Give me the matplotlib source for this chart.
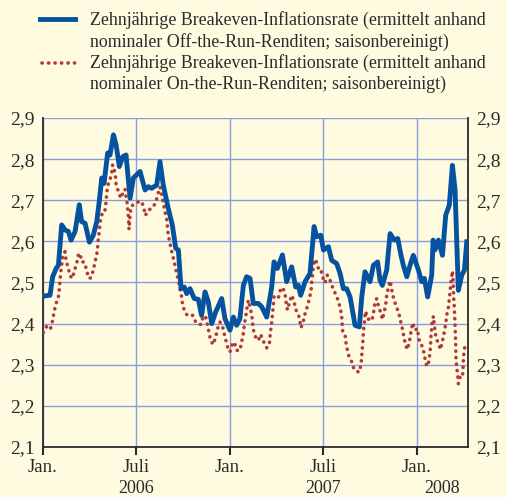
import matplotlib
matplotlib.use("Agg")
import matplotlib.pyplot as plt
from matplotlib.lines import Line2D
from matplotlib.ticker import FuncFormatter
import matplotlib.transforms as mtransforms

# months since Jan. 2006 / rate in %
blue_m = [0.02, 0.45, 0.62, 0.84, 0.99, 1.20, 1.41, 1.63, 1.80, 2.06, 2.33, 2.48, 2.70, 2.98,
          3.23, 3.45, 3.62, 3.77, 3.92, 4.15, 4.30, 4.52, 4.69, 4.90, 5.12, 5.33, 5.59, 5.80,
          6.23, 6.55, 6.76, 6.97, 7.30, 7.51, 7.72, 8.04, 8.30, 8.52, 8.69, 8.86, 9.07, 9.22,
          9.44, 9.71, 9.97, 10.18, 10.40, 10.61, 10.83, 11.08, 11.47, 11.68, 12.00, 12.22,
          12.43, 12.64, 12.86, 13.07, 13.29, 13.50, 13.82, 14.04, 14.36, 14.68, 14.83, 15.04,
          15.37, 15.64, 15.96, 16.22, 16.39, 16.54, 16.82, 17.14, 17.40, 17.57, 17.83, 18.00,
          18.32, 18.53, 18.85, 19.07, 19.28, 19.49, 19.71, 20.03, 20.31, 20.46, 20.67, 20.99,
          21.21, 21.48, 21.63, 21.78, 22.06, 22.28, 22.55, 22.77, 22.98, 23.13, 23.35, 23.56,
          23.77, 23.92, 24.10, 24.31, 24.48, 24.69, 24.95, 25.04, 25.16, 25.38, 25.64, 25.85,
          26.08, 26.28, 26.45, 26.66, 26.88, 27.05, 27.20]
blue_v = [2.467, 2.469, 2.514, 2.534, 2.542, 2.640, 2.628, 2.624, 2.603, 2.624, 2.689, 2.648,
          2.644, 2.598, 2.615, 2.648, 2.700, 2.754, 2.741, 2.815, 2.810, 2.859, 2.835, 2.782,
          2.806, 2.810, 2.705, 2.754, 2.770, 2.725, 2.733, 2.729, 2.737, 2.794, 2.737, 2.680,
          2.640, 2.583, 2.579, 2.485, 2.489, 2.473, 2.485, 2.461, 2.459, 2.420, 2.477, 2.453,
          2.400, 2.428, 2.461, 2.412, 2.384, 2.416, 2.396, 2.412, 2.493, 2.514, 2.510, 2.449,
          2.449, 2.441, 2.416, 2.489, 2.550, 2.534, 2.567, 2.502, 2.538, 2.489, 2.493, 2.469,
          2.502, 2.522, 2.636, 2.611, 2.615, 2.579, 2.587, 2.554, 2.546, 2.522, 2.485, 2.485,
          2.465, 2.396, 2.392, 2.465, 2.526, 2.502, 2.542, 2.550, 2.506, 2.493, 2.530, 2.619,
          2.603, 2.607, 2.566, 2.542, 2.514, 2.542, 2.566, 2.550, 2.530, 2.502, 2.510, 2.465,
          2.518, 2.603, 2.579, 2.603, 2.566, 2.664, 2.688, 2.785, 2.725, 2.481, 2.518, 2.530,
          2.599]

red_m = [0.02, 0.28, 0.49, 0.62, 0.71, 0.82, 0.99, 1.05, 1.09, 1.14, 1.20, 1.26, 1.41, 1.48,
         1.63, 1.74, 1.89, 2.01, 2.16, 2.27, 2.38, 2.48, 2.63, 2.81, 2.91, 3.06, 3.23, 3.34,
         3.45, 3.51, 3.55, 3.62, 3.66, 3.77, 3.88, 3.98, 4.05, 4.09, 4.15, 4.30, 4.41, 4.47,
         4.56, 4.65, 4.69, 4.84, 4.99, 5.12, 5.27, 5.33, 5.42, 5.46, 5.50, 5.52, 5.59, 5.65,
         6.01, 6.34, 6.49, 6.57, 6.76, 6.97, 7.23, 7.36, 7.51, 7.62, 7.72, 7.83, 7.94, 8.04,
         8.15, 8.26, 8.37, 8.47, 8.58, 8.69, 8.79, 8.90, 8.96, 9.11, 9.29, 9.44, 9.61, 9.80,
         9.97, 10.14, 10.29, 10.44, 10.55, 10.65, 10.76, 10.93, 11.08, 11.21, 11.36, 11.51,
         11.60, 11.72, 11.85, 12.00, 12.15, 12.28, 12.43, 12.64, 12.75, 12.86, 12.92, 13.01,
         13.09, 13.18, 13.29, 13.40, 13.50, 13.65, 13.82, 13.97, 14.15, 14.36, 14.53, 14.57,
         14.64, 14.70, 14.74, 14.79, 14.83, 15.11, 15.22, 15.39, 15.54, 15.60, 15.69, 15.81,
         15.96, 16.11, 16.22, 16.41, 16.50, 16.56, 16.71, 16.82, 16.97, 17.10, 17.21, 17.25,
         17.31, 17.35, 17.42, 17.53, 17.68, 17.83, 17.93, 18.10, 18.25, 18.42, 18.60, 18.81,
         18.96, 19.07, 19.17, 19.24, 19.39, 19.45, 19.54, 19.64, 19.82, 19.97, 20.14, 20.31,
         20.42, 20.46, 20.50, 20.54, 20.56, 20.63, 20.67, 20.71, 20.84, 21.10, 21.21, 21.27,
         21.42, 21.53, 21.70, 21.78, 21.91, 22.00, 22.06, 22.17, 22.28, 22.34, 22.43, 22.55,
         22.70, 22.85, 22.98, 23.09, 23.18, 23.28, 23.39, 23.52, 23.62, 23.73, 23.88, 24.03,
         24.10, 24.20, 24.31, 24.42, 24.52, 24.63, 24.74, 24.82, 24.87, 24.89, 24.93, 24.97,
         25.06, 25.10, 25.23, 25.38, 25.51, 25.55, 25.66, 25.76, 25.85, 25.91, 26.02, 26.08,
         26.13, 26.17, 26.23, 26.28, 26.32, 26.36, 26.41, 26.45, 26.49, 26.51, 26.56, 26.62,
         26.66, 26.77, 26.92, 26.96, 26.98, 27.02, 27.09]
red_v = [2.378, 2.396, 2.389, 2.408, 2.428, 2.447, 2.465, 2.485, 2.504, 2.526, 2.542, 2.563,
         2.575, 2.554, 2.534, 2.516, 2.510, 2.528, 2.546, 2.567, 2.571, 2.550, 2.550, 2.530,
         2.511, 2.511, 2.530, 2.550, 2.568, 2.587, 2.607, 2.625, 2.646, 2.664, 2.676, 2.676,
         2.697, 2.717, 2.735, 2.750, 2.766, 2.786, 2.778, 2.758, 2.739, 2.721, 2.705, 2.717,
         2.727, 2.709, 2.689, 2.668, 2.648, 2.629, 2.664, 2.685, 2.695, 2.697, 2.678, 2.663,
         2.676, 2.680, 2.693, 2.713, 2.732, 2.713, 2.693, 2.672, 2.654, 2.615, 2.595, 2.576,
         2.559, 2.542, 2.522, 2.506, 2.485, 2.465, 2.445, 2.428, 2.419, 2.420, 2.420, 2.404,
         2.398, 2.398, 2.419, 2.416, 2.398, 2.380, 2.359, 2.349, 2.367, 2.388, 2.404, 2.396,
         2.380, 2.362, 2.343, 2.331, 2.351, 2.355, 2.335, 2.335, 2.355, 2.376, 2.396, 2.416,
         2.437, 2.457, 2.442, 2.420, 2.385, 2.367, 2.359, 2.374, 2.357, 2.341, 2.350, 2.369,
         2.390, 2.410, 2.428, 2.447, 2.467, 2.463, 2.480, 2.488, 2.471, 2.453, 2.433, 2.450,
         2.469, 2.455, 2.435, 2.420, 2.404, 2.390, 2.406, 2.424, 2.442, 2.461, 2.481, 2.502,
         2.520, 2.540, 2.556, 2.552, 2.534, 2.534, 2.515, 2.499, 2.518, 2.506, 2.487, 2.469,
         2.455, 2.439, 2.420, 2.380, 2.372, 2.353, 2.335, 2.320, 2.307, 2.288, 2.284, 2.282,
         2.303, 2.323, 2.343, 2.360, 2.380, 2.400, 2.420, 2.430, 2.412, 2.407, 2.424, 2.443,
         2.461, 2.443, 2.424, 2.410, 2.429, 2.447, 2.467, 2.488, 2.504, 2.493, 2.473, 2.455,
         2.440, 2.423, 2.402, 2.384, 2.365, 2.347, 2.337, 2.356, 2.380, 2.402, 2.384, 2.388,
         2.369, 2.351, 2.347, 2.335, 2.315, 2.296, 2.303, 2.323, 2.342, 2.361, 2.380, 2.400,
         2.418, 2.402, 2.364, 2.353, 2.337, 2.343, 2.361, 2.380, 2.400, 2.420, 2.439, 2.459,
         2.477, 2.497, 2.515, 2.528, 2.507, 2.465, 2.433, 2.392, 2.351, 2.313, 2.293, 2.274,
         2.254, 2.270, 2.269, 2.288, 2.309, 2.329, 2.347]

tick_pos = [0, 6, 12, 18, 24]
tick_lbl = ["Jan.", "Juli", "Jan.", "Juli", "Jan."]
years = ["2006", "2007", "2008"]
yticks = [2.1, 2.2, 2.3, 2.4, 2.5, 2.6, 2.7, 2.8, 2.9]

label_off = "Zehnjährige Breakeven-Inflationsrate (ermittelt anhand\nnominaler Off-the-Run-Renditen; saisonbereinigt)"
label_on = "Zehnjährige Breakeven-Inflationsrate (ermittelt anhand\nnominaler On-the-Run-Renditen; saisonbereinigt)"

bg = "#fefbe0"
blue = "#0553a0"
red = "#b23a36"
grid_c = "#8a9cdc"
dark = "#2a2a2a"

plt.rcParams["font.family"] = ["Liberation Serif", "DejaVu Serif"]

fig = plt.figure(figsize=(5.07, 4.97), dpi=100, facecolor=bg)
ax = fig.add_axes([43 / 507, 1 - 447 / 497, 425 / 507, 329 / 497], facecolor=bg)

ax.plot(red_m, red_v, color=red, lw=2.6, dashes=(0.05, 1.75), dash_capstyle="round", zorder=3)
ax.plot(blue_m, blue_v, color=blue, lw=3.5, solid_joinstyle="round", zorder=4)

xmax = 27.28
ax.set_xlim(0, xmax)
ax.set_ylim(2.1, 2.9)
ax.set_yticks(yticks)
ax.yaxis.set_major_formatter(FuncFormatter(lambda v, p: f"{v:.1f}".replace(".", ",")))
ax.tick_params(axis="y", length=0, labelsize=14, colors=dark, labelright=True, pad=6)
ax.set_xticks(tick_pos)
ax.set_xticklabels(tick_lbl)
ax.tick_params(axis="x", direction="out", length=6, width=1.5, colors=dark, labelsize=13.5, pad=3)

ax.grid(True, color=grid_c, lw=1.0)
ax.set_axisbelow(True)
for s in ["left", "right", "bottom"]:
    ax.spines[s].set_color(dark)
    ax.spines[s].set_linewidth(1.3)
ax.spines["top"].set_visible(False)

trans = mtransforms.blended_transform_factory(ax.transData, ax.transAxes)
year_pos = [6, 18, (24 + xmax) / 2]
for yp, yl in zip(year_pos, years):
    ax.text(yp, -0.125, yl, transform=trans, ha="center", va="center", fontsize=13, color=dark)

# legend
fig.add_artist(Line2D([40 / 507, 75 / 507], [1 - 19 / 497] * 2, color=blue, lw=3.5))
fig.add_artist(Line2D([42 / 507, 75 / 507], [1 - 63 / 497] * 2, color=red, lw=2.6,
                      dashes=(0.05, 1.75), dash_capstyle="round"))
fig.text(90 / 507, 1 - 11 / 497, label_off, ha="left", va="top", fontsize=12.9, color=dark, linespacing=1.3)
fig.text(90 / 507, 1 - 54 / 497, label_on, ha="left", va="top", fontsize=12.9, color=dark, linespacing=1.3)

fig.savefig("out.png", dpi=100, facecolor=bg)
